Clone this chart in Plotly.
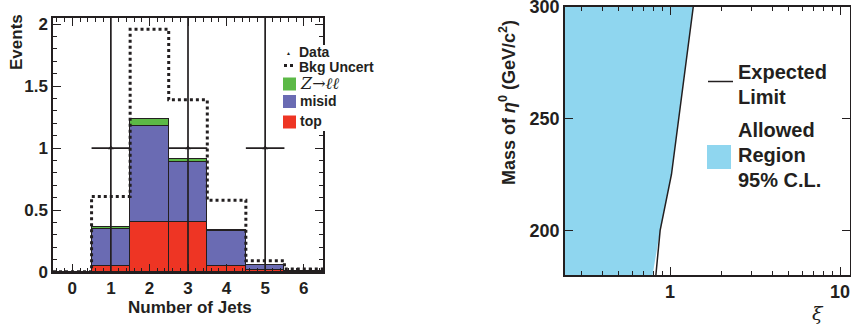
import plotly.graph_objects as go

W, H = 851, 329


def px(x):
    return x / W


def py(y):
    return 1 - y / H


# ---------------- Left panel data ----------------
n_jets = [0, 1, 2, 3, 4, 5, 6]
top = [0.0, 0.05, 0.40, 0.40, 0.048, 0.02, 0.005]
misid = [0.0, 0.297, 0.78, 0.485, 0.28, 0.035, 0.004]
z_ll = [0.0, 0.015, 0.055, 0.025, 0.015, 0.004, 0.002]
bkg_uncert = [0.003, 0.61, 1.96, 1.39, 0.58, 0.09, 0.025]
data_x = [1, 3, 5]
data_y = [1, 1, 1]
data_err_up = [1.3, 1.3, 1.3]
data_err_down = [1.0, 1.0, 1.0]
data_err_x = [0.5, 0.5, 0.5]

# ---------------- Right panel data ----------------
mass_obs = [180, 190, 200, 225, 300]
xi_obs = [0.79, 0.83, 0.875, 1.02, 1.37]
mass_exp = [180, 200, 225, 300]
xi_exp = [0.826, 0.875, 1.02, 1.37]

C_TOP = "#ee3524"
C_MISID = "#6a6bb3"
C_Z = "#5cb947"
C_FILL = "#8fd6ef"
INK = "#231f20"

fig = go.Figure()

for vals, col, name in [(top, C_TOP, "top"), (misid, C_MISID, "misid"), (z_ll, C_Z, "Z→ℓℓ")]:
    fig.add_trace(go.Bar(x=n_jets, y=vals, width=1, name=name, showlegend=False,
                         marker=dict(color=col, line=dict(color=INK, width=1.5)),
                         xaxis="x", yaxis="y"))

edges = [c - 0.5 for c in n_jets] + [n_jets[-1] + 0.5]
fig.add_trace(go.Scatter(x=edges, y=bkg_uncert + [bkg_uncert[-1]], mode="lines",
                         line=dict(color=INK, width=3, dash="dot", shape="hv"),
                         name="Bkg Uncert", showlegend=False, xaxis="x", yaxis="y"))

fig.add_trace(go.Scatter(x=data_x, y=data_y, mode="markers", name="Data", showlegend=False,
                         marker=dict(symbol="triangle-up", size=5, color=INK),
                         error_y=dict(type="data", array=data_err_up, arrayminus=data_err_down,
                                      color=INK, thickness=1.7, width=0),
                         error_x=dict(type="data", array=data_err_x, color=INK, thickness=1.7, width=0),
                         xaxis="x", yaxis="y"))

# Right panel
x_left = 10 ** (-0.7)
fig.add_trace(go.Scatter(x=xi_obs + [x_left, x_left], y=mass_obs + [mass_obs[-1], mass_obs[0]],
                         fill="toself", fillcolor=C_FILL, mode="lines", line=dict(width=0, color=C_FILL),
                         name="Allowed Region 95% C.L.", showlegend=False, xaxis="x2", yaxis="y2"))
fig.add_trace(go.Scatter(x=xi_exp, y=mass_exp, mode="lines", line=dict(color=INK, width=1.5),
                         name="Expected Limit", showlegend=False, xaxis="x2", yaxis="y2"))

common = dict(showline=True, linecolor=INK, linewidth=1.5, mirror="allticks", ticks="inside",
              tickcolor=INK, tickwidth=1.2, showgrid=False, zeroline=False, automargin=False,
              ticklabeloverflow="allow")

fig.update_layout(
    width=W, height=H, margin=dict(l=0, r=0, t=0, b=0, autoexpand=False),
    paper_bgcolor="white", plot_bgcolor="white", barmode="stack", bargap=0,
    font=dict(family="Liberation Sans, Arial, sans-serif", weight="bold", color=INK, size=17),
    xaxis=dict(domain=[px(53), px(323)], range=[-0.5, 6.5], tickvals=n_jets, ticklen=8,
               tickfont=dict(size=17), minor=dict(dtick=0.2, ticklen=4, ticks="inside", tickcolor=INK),
               anchor="y", **common),
    yaxis=dict(domain=[py(272), py(18)], range=[0, 2.05], dtick=0.5, ticklen=8,
               tickfont=dict(size=17), minor=dict(dtick=0.1, ticklen=4, ticks="inside", tickcolor=INK),
               anchor="x", **common),
    xaxis2=dict(domain=[px(565), px(850)], type="log", range=[-0.6176, 1.0588], dtick=1, ticklen=8,
                tickfont=dict(size=18),
                minor=dict(tickvals=[0.3, 0.4, 0.5, 0.6, 0.7, 0.8, 0.9, 2, 3, 4, 5, 6, 7, 8, 9],
                           ticklen=4, ticks="inside", tickcolor=INK),
                anchor="y2", **common),
    yaxis2=dict(domain=[py(275), py(7)], range=[180, 300], dtick=50, ticklen=8,
                tickfont=dict(size=18), anchor="x2", **common),
)

ann = []
shapes = []
# axis titles
ann.append(dict(text="Events", x=px(17), y=py(42), textangle=-90, font=dict(size=17)))
ann.append(dict(text="Number of Jets", x=px(190), y=py(307), font=dict(size=17)))
ann.append(dict(text="Mass of <i>η</i><sup>0</sup> (GeV/c<sup>2</sup>)", x=px(508), y=py(103),
                textangle=-90, font=dict(size=18)))
ann.append(dict(text="<i>ξ</i>", x=px(818), y=py(313),
                font=dict(family="DejaVu Serif, serif", weight="normal", size=19)))

# left legend background
shapes.append(dict(type="rect", xref="paper", yref="paper", x0=px(279), x1=px(385), y0=py(131), y1=py(45),
                   fillcolor="white", line=dict(width=0), layer="above"))
leg_font = dict(size=14)
ann.append(dict(text="▲", x=px(288.5), y=py(53), font=dict(size=5), xanchor="center"))
ann.append(dict(text="Data", x=px(297), y=py(52.5), xanchor="left", font=leg_font))
shapes.append(dict(type="line", xref="paper", yref="paper", x0=px(284), x1=px(295), y0=py(65.5), y1=py(65.5),
                   line=dict(color=INK, width=3, dash="dot"), layer="above"))
ann.append(dict(text="Bkg Uncert", x=px(297), y=py(66.5), xanchor="left", font=leg_font))
for (yc, col, lab, f) in [(84, C_Z, "<i>Z</i>→<i>ℓℓ</i>", dict(family="DejaVu Serif, serif", weight="normal", size=16)),
                          (101.5, C_MISID, "misid", leg_font), (122, C_TOP, "top", leg_font)]:
    shapes.append(dict(type="rect", xref="paper", yref="paper", x0=px(283), x1=px(296),
                       y0=py(yc + 6.5), y1=py(yc - 6.5), fillcolor=col, line=dict(width=0), layer="above"))
    ann.append(dict(text=lab, x=px(297.5), y=py(yc - 0.5), xanchor="left", font=f))

# right legend
shapes.append(dict(type="line", xref="paper", yref="paper", x0=px(708), x1=px(733), y0=py(81.5), y1=py(81.5),
                   line=dict(color=INK, width=1.5), layer="above"))
shapes.append(dict(type="rect", xref="paper", yref="paper", x0=px(707), x1=px(731), y0=py(169), y1=py(145),
                   fillcolor=C_FILL, line=dict(width=0), layer="above"))
for yc, lab in [(72, "Expected"), (97, "Limit"), (130, "Allowed"), (155, "Region"), (180, "95% C.L.")]:
    ann.append(dict(text=lab, x=px(736), y=py(yc), xanchor="left", font=dict(size=20)))

for a in ann:
    a.setdefault("xref", "paper")
    a.setdefault("yref", "paper")
    a.setdefault("showarrow", False)
    a.setdefault("xanchor", "center")
    a.setdefault("yanchor", "middle")
fig.update_layout(annotations=ann, shapes=shapes)

fig.write_html("out.html", config={"displayModeBar": False},
               post_script="document.body.style.margin='0';document.body.style.overflow='hidden';")
